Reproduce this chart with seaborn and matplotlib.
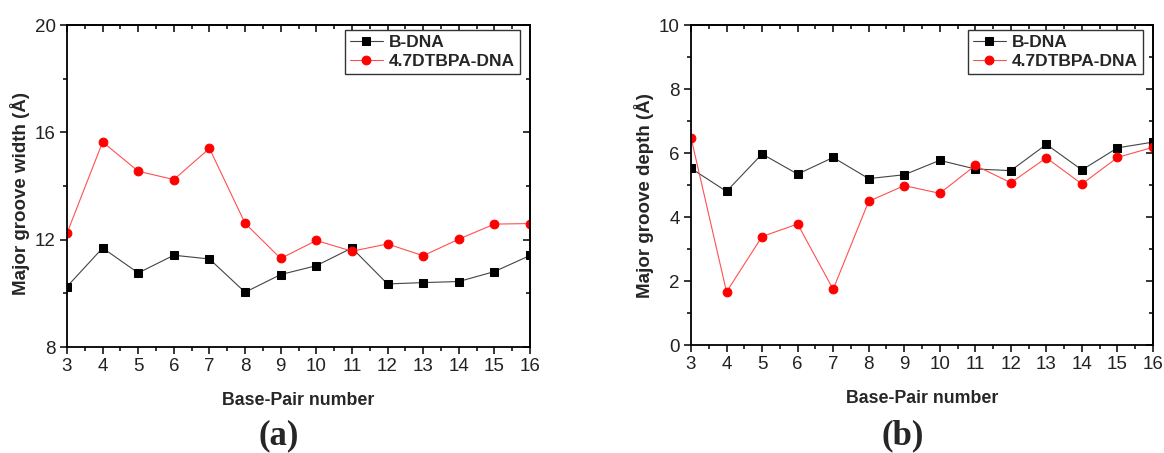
import numpy as np
import pandas as pd
import matplotlib
matplotlib.use("Agg")
import matplotlib.pyplot as plt
import seaborn as sns
from matplotlib.ticker import MultipleLocator

# ---- data ----
base_pair = [3, 4, 5, 6, 7, 8, 9, 10, 11, 12, 13, 14, 15, 16]
width_bdna = [10.25, 11.69, 10.76, 11.42, 11.28, 10.04, 10.70, 11.03, 11.69, 10.35, 10.40, 10.44, 10.81, 11.41]
width_dtbpa = [12.24, 15.64, 14.55, 14.24, 15.40, 12.61, 11.30, 11.97, 11.57, 11.84, 11.40, 12.02, 12.58, 12.60]
depth_bdna = [5.52, 4.80, 5.97, 5.34, 5.86, 5.20, 5.32, 5.77, 5.50, 5.45, 6.27, 5.47, 6.16, 6.34]
depth_dtbpa = [6.48, 1.66, 3.39, 3.78, 1.74, 4.49, 4.98, 4.74, 5.61, 5.07, 5.85, 5.03, 5.86, 6.18]
series_names = ["B-DNA", "4.7DTBPA-DNA"]
x_label = "Base-Pair number"
y_labels = ["Major groove width (Å)", "Major groove depth (Å)"]
panel_tags = ["(a)", "(b)"]

sns.set_theme(style="white")
plt.rcParams["font.family"] = ["Liberation Sans", "DejaVu Sans"]

W, H = 1164, 453
fig = plt.figure(figsize=(W / 100, H / 100), dpi=100)

def px_axes(x0, y0, x1, y1):
    return fig.add_axes([x0 / W, 1 - y1 / H, (x1 - x0) / W, (y1 - y0) / H])

ax1 = px_axes(67, 25, 530, 347)
ax2 = px_axes(691, 25, 1153, 345)

panels = [
    (ax1, width_bdna, width_dtbpa, (8, 20), 4, 2, (-0.079, 0.478)),
    (ax2, depth_bdna, depth_dtbpa, (0, 10), 2, 1, (-0.080, 0.466)),
]

for i, (ax, yb, yr, ylim, ymaj, ymin, ylab_pos) in enumerate(panels):
    df = pd.DataFrame({"x": base_pair * 2,
                       "y": list(yb) + list(yr),
                       "s": [series_names[0]] * len(base_pair) + [series_names[1]] * len(base_pair)})
    sns.lineplot(data=df[df.s == series_names[0]], x="x", y="y", ax=ax,
                 color="#444444", lw=0.8, marker="s", markersize=5.6,
                 markerfacecolor="black", markeredgecolor="black",
                 label=series_names[0])
    sns.lineplot(data=df[df.s == series_names[1]], x="x", y="y", ax=ax,
                 color="#ff5050", lw=0.8, marker="o", markersize=6.3,
                 markerfacecolor="red", markeredgecolor="red",
                 label=series_names[1])
    ax.set_xlim(3, 16)
    ax.set_ylim(*ylim)
    ax.xaxis.set_major_locator(MultipleLocator(1))
    ax.xaxis.set_minor_locator(MultipleLocator(0.5))
    ax.yaxis.set_major_locator(MultipleLocator(ymaj))
    ax.yaxis.set_minor_locator(MultipleLocator(ymin))
    ax.tick_params(which="both", direction="out", bottom=True, left=True,
                   top=False, right=False, color="black", width=1.1,
                   labelsize=13.5, labelcolor="#222222")
    ax.tick_params(which="major", length=5, pad=3)
    ax.tick_params(which="minor", length=3)
    for sp in ax.spines.values():
        sp.set_color("black")
        sp.set_linewidth(1.3)
    # inward mirror ticks on top and right
    sx = ax.secondary_xaxis("top")
    sx.xaxis.set_major_locator(MultipleLocator(1))
    sx.xaxis.set_minor_locator(MultipleLocator(0.5))
    sx.tick_params(which="both", direction="in", labeltop=False, width=1.1, color="black")
    sx.tick_params(which="major", length=5)
    sx.tick_params(which="minor", length=3)
    sx.spines["top"].set_linewidth(1.3)
    sy = ax.secondary_yaxis("right")
    sy.yaxis.set_major_locator(MultipleLocator(ymaj))
    sy.yaxis.set_minor_locator(MultipleLocator(ymin))
    sy.tick_params(which="both", direction="in", labelright=False, width=1.1, color="black")
    sy.tick_params(which="major", length=5)
    sy.tick_params(which="minor", length=3)
    sy.spines["right"].set_linewidth(1.3)

    ax.set_xlabel(x_label, fontsize=12.8, fontweight="bold", labelpad=12)
    ax.set_ylabel(y_labels[i], fontsize=13.5, fontweight="bold")
    ax.yaxis.set_label_coords(*ylab_pos)

    leg = ax.legend(loc="upper right", bbox_to_anchor=(1 - 10 / 463, 1 - 5 / 322),
                    borderaxespad=0, frameon=True, fancybox=False, framealpha=1,
                    edgecolor="#333333", prop={"weight": "bold", "size": 12.5},
                    handlelength=1.9, handletextpad=0.35, borderpad=0.3,
                    labelspacing=0.2)
    leg.get_frame().set_linewidth(1.0)

fig.text(279 / W, 1 - 436 / H, panel_tags[0], ha="center", va="center",
         fontsize=25, fontweight="bold", family="Liberation Serif")
fig.text(903 / W, 1 - 436 / H, panel_tags[1], ha="center", va="center",
         fontsize=25, fontweight="bold", family="Liberation Serif")

fig.savefig("out.png", dpi=100)
